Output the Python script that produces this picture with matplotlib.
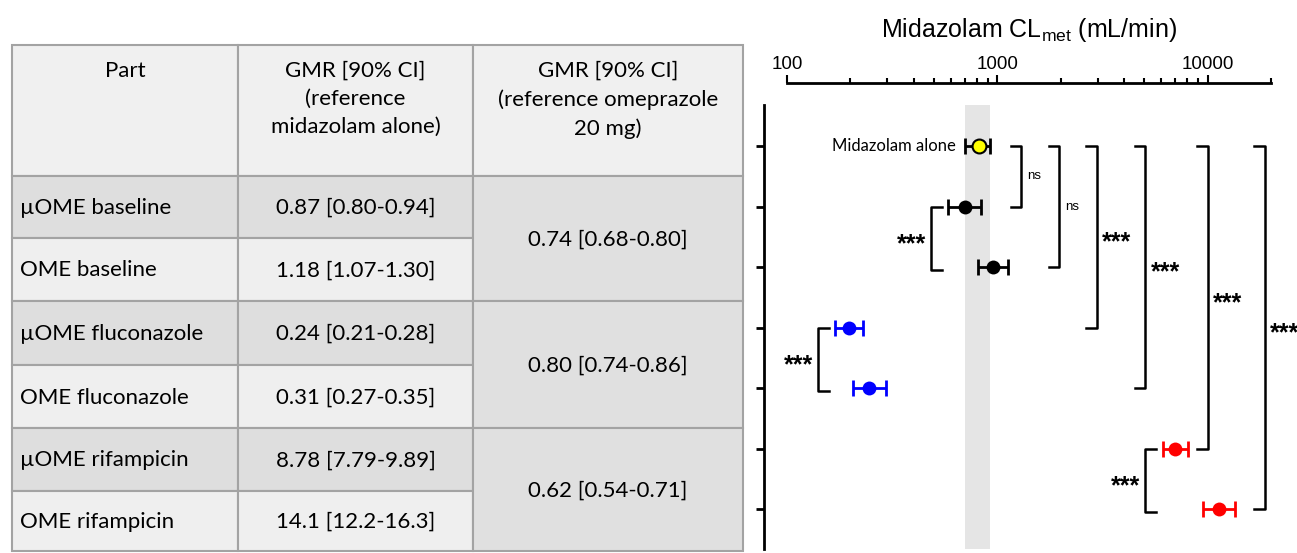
import numpy as np
import matplotlib
matplotlib.use("Agg")
import matplotlib.pyplot as plt
from matplotlib.patches import Rectangle
from matplotlib.ticker import FuncFormatter, NullFormatter

plt.rcParams['font.family'] = 'Liberation Sans'
plt.rcParams['mathtext.fontset'] = 'custom'
plt.rcParams['mathtext.rm'] = 'Liberation Sans'

# table contents
headers = ["Part", "GMR [90% CI]\n(reference\nmidazolam alone)",
           "GMR [90% CI]\n(reference omeprazole\n20 mg)"]
parts = ["µOME baseline", "OME baseline", "µOME fluconazole", "OME fluconazole",
         "µOME rifampicin", "OME rifampicin"]
gmr_midazolam = ["0.87 [0.80-0.94]", "1.18 [1.07-1.30]", "0.24 [0.21-0.28]",
                 "0.31 [0.27-0.35]", "8.78 [7.79-9.89]", "14.1 [12.2-16.3]"]
gmr_omeprazole = ["0.74 [0.68-0.80]", "0.80 [0.74-0.86]", "0.62 [0.54-0.71]"]

# forest plot values (mL/min)
groups = ["Midazolam alone"] + parts
cl_met = [815, 700, 951, 197, 245, 7030, 11330]
cl_lo = [705, 584, 807, 170, 206, 6150, 9550]
cl_hi = [927, 835, 1127, 229, 295, 8040, 13460]
point_colors = ["#ffff00", "black", "black", "#0000ff", "#0000ff", "#ff0000", "#ff0000"]

# comparisons against midazolam alone (right side)
ref_rows = [1, 2, 3, 4, 5, 6]
ref_x = [1300, 1970, 2970, 5050, 10000, 18660]
ref_labels = ["ns", "ns", "***", "***", "***", "***"]
# µOME vs OME comparisons (left side)
pair_rows = [(1, 2), (3, 4), (5, 6)]
pair_x = [485, 141, 5050]
pair_labels = ["***", "***", "***"]

W, H = 1297, 553
fig = plt.figure(figsize=(W / 100, H / 100), dpi=100)

# ---------------- table ----------------
tab = fig.add_axes([0, 0, 1, 1])
tab.set_xlim(0, W)
tab.set_ylim(H, 0)
tab.axis('off')

col_edges = [12, 238, 473, 743]
row_edges = [45, 176, 238, 301, 365, 428, 491, 551]
dark, light, head, merged = '#dedede', '#efefef', '#f0f0f0', '#e0e0e0'
edge = '#a3a3a3'
tfont = dict(family='Lato', fontsize=16)


def cell(x0, x1, y0, y1, fc):
    tab.add_patch(Rectangle((x0, y0), x1 - x0, y1 - y0, fc=fc, ec=edge, lw=1.5))


for j in range(3):
    cell(col_edges[j], col_edges[j + 1], row_edges[0], row_edges[1], head)
    tab.text((col_edges[j] + col_edges[j + 1]) / 2, 61, headers[j], ha='center', va='top',
             linespacing=1.5, **tfont)

for i in range(6):
    y0, y1 = row_edges[i + 1], row_edges[i + 2]
    fc = dark if i % 2 == 0 else light
    cell(col_edges[0], col_edges[1], y0, y1, fc)
    cell(col_edges[1], col_edges[2], y0, y1, fc)
    tab.text(col_edges[0] + 8, (y0 + y1) / 2 + 1, parts[i], ha='left', va='center', **tfont)
    tab.text((col_edges[1] + col_edges[2]) / 2, (y0 + y1) / 2 + 1, gmr_midazolam[i],
             ha='center', va='center', **tfont)

for k in range(3):
    y0, y1 = row_edges[2 * k + 1], row_edges[2 * k + 3]
    cell(col_edges[2], col_edges[3], y0, y1, merged)
    tab.text((col_edges[2] + col_edges[3]) / 2, (y0 + y1) / 2 + 1, gmr_omeprazole[k],
             ha='center', va='center', **tfont)

# ---------------- forest plot ----------------
ax = fig.add_axes([787 / W, 1 - 549 / H, 484 / W, 444 / H])
ax.set_xscale('log')
ax.set_xlim(100, 20000)
ax.set_ylim(6.66, -0.68)
ax.patch.set_alpha(0)

for s in ['bottom', 'right']:
    ax.spines[s].set_visible(False)
ax.spines['top'].set_position(('outward', 16))
ax.spines['left'].set_position(('outward', 16.5))
ax.spines['top'].set_linewidth(2)
ax.spines['left'].set_linewidth(2)

ax.xaxis.tick_top()
ax.xaxis.set_major_formatter(FuncFormatter(lambda v, p: f"{v:.0f}"))
ax.xaxis.set_minor_formatter(NullFormatter())
ax.tick_params(axis='x', which='major', direction='out', length=6, width=1.5,
               labelsize=13.5, pad=1)
ax.tick_params(axis='x', which='minor', direction='out', length=3.3, width=1.5)
ax.set_yticks(range(len(groups)))
ax.set_yticklabels([])
ax.tick_params(axis='y', direction='out', length=5.5, width=2)
ax.xaxis.set_label_position('top')
ax.set_xlabel("Midazolam CL$_\\mathregular{met}$ (mL/min)", fontsize=18, labelpad=14)

ax.axvspan(cl_lo[0], cl_hi[0], color='#e5e5e5', lw=0, zorder=0)

for i in range(len(groups)):
    c = point_colors[i]
    line_c = 'black' if i == 0 else c
    ax.errorbar(cl_met[i], i, xerr=[[cl_met[i] - cl_lo[i]], [cl_hi[i] - cl_met[i]]],
                fmt='none', ecolor=line_c, capsize=5.5, elinewidth=2, capthick=2,
                zorder=3)
    ax.plot(cl_met[i], i, 'o', ms=10, mfc=c, mec=line_c, mew=1.5 if i == 0 else 0,
            zorder=4)

ax.annotate(groups[0], xy=(cl_lo[0], 0), xytext=(-7, 0), textcoords='offset points',
            ha='right', va='center', family='Lato', fontsize=12)

arm = 10 ** (10.5 / 210)
for r, x, lab in zip(ref_rows, ref_x, ref_labels):
    ax.plot([x / arm, x, x, x / arm], [0, 0, r, r], color='black', lw=1.8, clip_on=False)
    if lab == 'ns':
        ax.annotate(lab, xy=(x, r / 2), xytext=(4.5, 0), textcoords='offset points',
                    ha='left', va='center', fontsize=9.5, annotation_clip=False)
    else:
        ax.annotate(lab, xy=(x, r / 2), xytext=(4, -4), textcoords='offset points',
                    ha='left', va='center', fontsize=18, fontweight='bold',
                    annotation_clip=False)

for (r0, r1), x, lab in zip(pair_rows, pair_x, pair_labels):
    ax.plot([x * arm, x, x, x * arm], [r0, r0, r1 + 0.05, r1 + 0.05], color='black',
            lw=1.8, clip_on=False)
    ax.annotate(lab, xy=(x, (r0 + r1) / 2 + 0.03), xytext=(-4, -4), textcoords='offset points',
                ha='right', va='center', fontsize=18, fontweight='bold', annotation_clip=False)

fig.savefig("out.png", dpi=100)
